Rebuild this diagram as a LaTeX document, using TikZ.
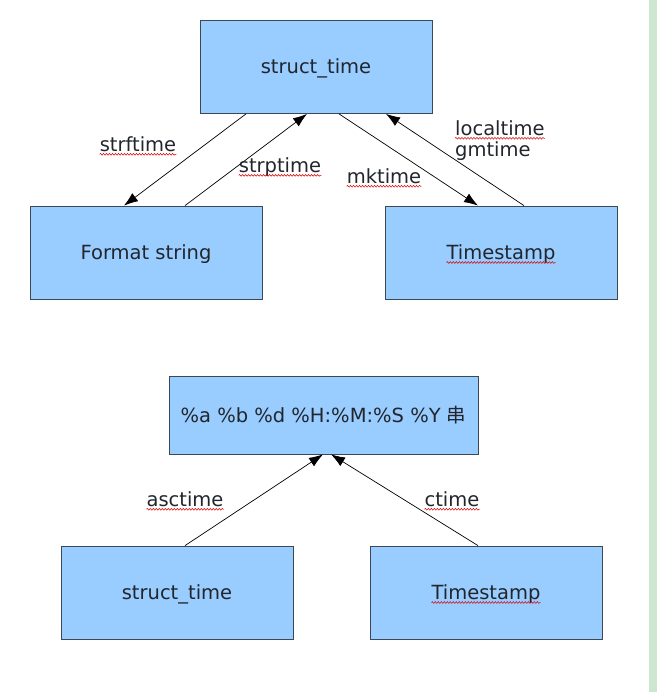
\documentclass[tikz,border=0pt]{standalone}
\usepackage{fontspec}
\setmainfont{DejaVu Sans}
\newfontfamily\cjk{Noto Sans CJK SC}
\usetikzlibrary{arrows.meta,decorations.pathmorphing}
\definecolor{boxfill}{RGB}{153,204,255}
\definecolor{boxline}{RGB}{60,72,86}
\definecolor{txt}{RGB}{34,38,44}
\definecolor{strip}{RGB}{204,230,207}
\tikzset{
  box/.style={draw=boxline, line width=0.8pt, fill=boxfill, rectangle, minimum width=232pt, minimum height=93pt, inner sep=0pt, text height=17pt, text depth=3pt, text=txt, font=\fontsize{19.5}{23}\selectfont},
  lab/.style={inner sep=0pt, text=txt, font=\fontsize{19.5}{23}\selectfont},
  conn/.style={draw=black, line width=0.7pt, -{Latex[length=14pt,width=10pt]}},
  squig/.style={draw=red!85!black, line width=0.5pt, decorate, decoration={snake, amplitude=0.9pt, segment length=3pt}}
}
\begin{document}
\begin{tikzpicture}[x=1pt,y=-1pt]
\useasboundingbox (0,0) rectangle (657,692);
\fill[white] (0,0) rectangle (657,692);
\fill[strip] (649,0) rectangle (657,692);
% top diagram
\node[box] (st) at (316,67) {struct\_time};
\node[box] (fmt) at (146,252.5) {Format string};
\node[box] (ts) at (501,252.5) {Timestamp};
\draw[conn] ([xshift=-70pt]st.south) -- ([xshift=-22pt]fmt.north);
\draw[conn] ([xshift=39pt]fmt.north) -- ([xshift=-9pt]st.south);
\draw[conn] ([xshift=23pt]st.south) -- ([xshift=-23pt]ts.north);
\draw[conn] ([xshift=23pt]ts.north) -- ([xshift=70pt]st.south);
\node[lab] (l1) at (138,144) {strftime};
\node[lab] (l2) at (280,167) {strptime};
\node[lab] (l3) at (384,176) {mktime};
\node[lab, anchor=west] (l4) at (455,128) {localtime};
\node[lab, anchor=west] (l5) at (455,151) {gmtime};
% bottom diagram
\node[box, minimum width=309pt, minimum height=78pt] (bt) at (323.5,415) {\%a \%b \%d \%H:\%M:\%S \%Y {\cjk 串}};
\node[box] (st2) at (177,592.5) {struct\_time};
\node[box] (ts2) at (486,592.5) {Timestamp};
\draw[conn] ([xshift=8pt]st2.north) -- ([xshift=-0.5pt]bt.south);
\draw[conn] ([xshift=-8pt]ts2.north) -- ([xshift=7.5pt]bt.south);
\node[lab] (l6) at (185,499) {asctime};
\node[lab] (l7) at (452,499) {ctime};
% spell-check underlines
\foreach \n in {l1,l2,l3,l4,l6,l7}{
  \draw[squig] ([yshift=-3pt]\n.base west) -- ([yshift=-3pt]\n.base east);
}
\node[lab, text opacity=0, anchor=base] (tsu) at ([yshift=-7pt]ts.center) {Timestamp};
\draw[squig] ([yshift=-3pt]tsu.base west) -- ([yshift=-3pt]tsu.base east);
\node[lab, text opacity=0, anchor=base] (tsu2) at ([yshift=-7pt]ts2.center) {Timestamp};
\draw[squig] ([yshift=-3pt]tsu2.base west) -- ([yshift=-3pt]tsu2.base east);
\end{tikzpicture}
\end{document}
